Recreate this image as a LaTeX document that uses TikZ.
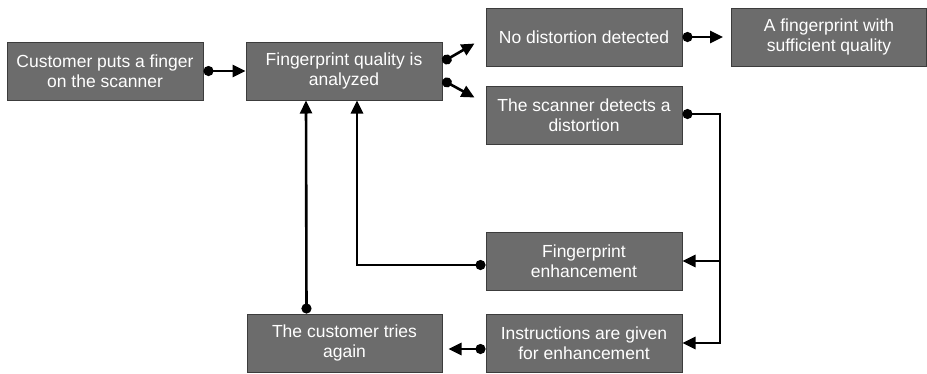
\documentclass[tikz,border=0pt]{standalone}
\usepackage{fontspec}
\setmainfont{Liberation Sans}
\usetikzlibrary{arrows.meta}
\definecolor{boxfill}{HTML}{6C6C6C}
\definecolor{boxline}{HTML}{3C3C3C}
\begin{document}
\begin{tikzpicture}[x=1pt,y=-1pt,
  box/.style={draw=boxline,line width=1pt,fill=boxfill,text=white,minimum width=196pt,minimum height=58pt,
    inner sep=0pt,align=center,font=\fontsize{17.5}{20}\selectfont},
  tip/.style={-{Triangle[length=13pt,width=12pt]}},
  conn/.style={line width=2.6pt,{Circle[length=10pt]}-{Triangle[length=13pt,width=12pt]}},
  plain/.style={line width=2.6pt},
  dotstart/.style={line width=2.6pt,{Circle[length=10pt]}-}]
\useasboundingbox (0,0) rectangle (927,373);
\node[box] (A) at (105,71) {Customer puts a finger\\on the scanner};
\node[box] (B) at (344,71) {Fingerprint quality is\\analyzed};
\node[box] (C) at (584,37) {No distortion detected};
\node[box,minimum width=195pt] (D) at (829,37) {A fingerprint with\\sufficient quality};
\node[box] (E) at (584,115) {The scanner detects a\\distortion};
\node[box] (F) at (584,261) {Fingerprint\\enhancement};
\node[box] (G) at (584,343) {Instructions are given\\for enhancement};
\node[box,minimum width=195pt] (H) at (344.5,343) {The customer tries\\again};
\coordinate (split) at (720,262);
\draw[conn] (A.east) -- (B.west);
\draw[conn] ([yshift=9pt]B.east) -- ([xshift=-11pt,yshift=23pt]C.south west);
\draw[conn] ([yshift=-9pt]B.east) -- ([xshift=-11pt,yshift=-12pt]E.north west);
\draw[conn] (C.east) -- ([xshift=-8pt]D.west);
\draw[dotstart] ([yshift=1pt]E.east) -| (split);
\draw[plain,tip] (split |- F.east) -- (F.east);
\draw[plain,tip] (split) |- (G.east);
\draw[conn] ([yshift=-4pt]F.west) -| ([xshift=13pt]B.south);
\draw[conn] ([yshift=-6pt]G.west) -- ([xshift=6pt,yshift=-6pt]H.east);
\draw[conn] ([xshift=-38pt]H.north) -- ([xshift=-38pt]B.south);
\end{tikzpicture}
\end{document}
